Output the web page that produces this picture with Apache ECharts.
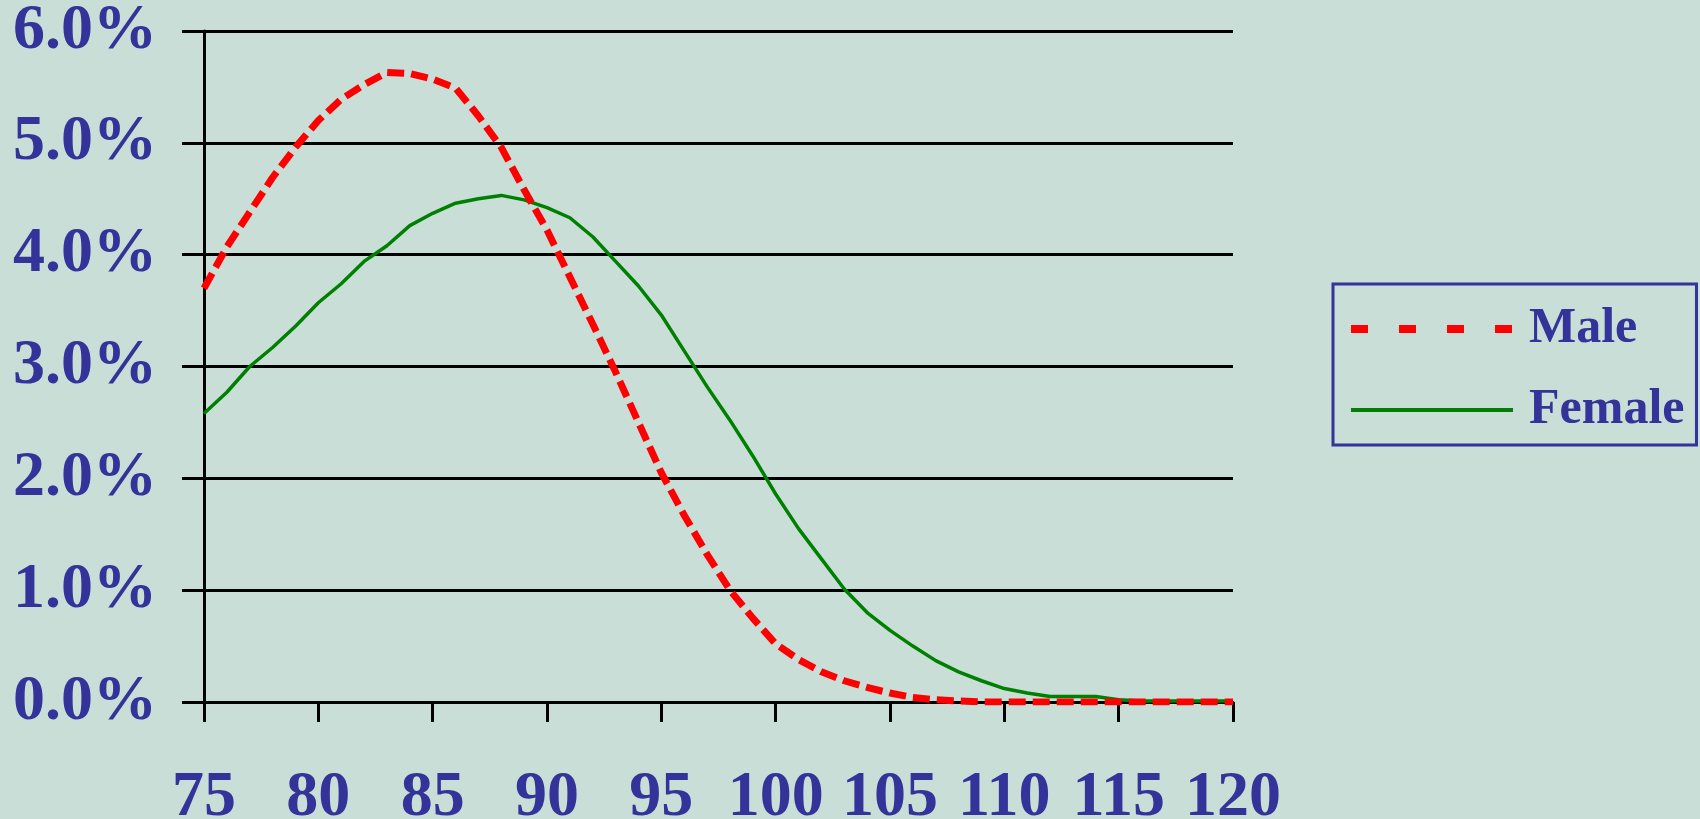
<!DOCTYPE html>
<html>
<head>
<meta charset="utf-8">
<title>Age at death distribution</title>
<script src="https://cdn.jsdelivr.net/npm/echarts@6/dist/echarts.min.js"></script>
<style>
  html, body { margin: 0; padding: 0; background: #C8DED7; }
  #chart { width: 1700px; height: 819px; }
</style>
</head>
<body>
<div id="chart"></div>
<script>
// Ages 75..120 and share of deaths at each age (percent)
const ages = [75,76,77,78,79,80,81,82,83,84,85,86,87,88,89,90,91,92,93,94,95,96,97,98,99,100,
  101,102,103,104,105,106,107,108,109,110,111,112,113,114,115,116,117,118,119,120];

const male = [3.70,4.07,4.38,4.69,4.96,5.20,5.39,5.52,5.63,5.62,5.57,5.49,5.24,4.96,4.58,4.22,3.80,3.38,2.95,2.50,
  2.05,1.67,1.32,1.00,0.75,0.52,0.38,0.27,0.19,0.13,0.08,0.04,0.02,0.01,0.00,0.00,0.00,0.00,0.00,0.00,
  0.00,0.00,0.00,0.00,0.00,0.00];

const female = [2.58,2.77,3.00,3.17,3.36,3.57,3.74,3.94,4.08,4.26,4.37,4.46,4.50,4.53,4.49,4.42,4.33,4.16,3.94,3.72,
  3.46,3.14,2.82,2.52,2.20,1.86,1.55,1.28,1.01,0.80,0.64,0.50,0.37,0.27,0.19,0.12,0.08,0.05,0.05,0.05,
  0.02,0.01,0.01,0.01,0.01,0.01];

const yTicks = [0, 1, 2, 3, 4, 5, 6];
const xTicks = [75, 80, 85, 90, 95, 100, 105, 110, 115, 120];

const seriesNames = ['Male', 'Female'];

const textColor = '#333399';
const fontFamily = "'Liberation Serif', 'Times New Roman', serif";

const chart = echarts.init(document.getElementById('chart'), null, { renderer: 'canvas' });

chart.setOption({
  backgroundColor: '#C8DED7',
  animation: false,
  grid: {
    left: 204, right: 467, top: 31, bottom: 117,
    containLabel: false,
    outerBoundsMode: 'none'
  },
  legend: {
    orient: 'vertical',
    left: 1333,
    top: 284,
    padding: [20, 12, 10, 14],
    itemGap: 31,
    itemWidth: 162,
    itemHeight: 10,
    borderColor: '#333399',
    borderWidth: 3,
    itemStyle: { opacity: 0, borderWidth: 0 },
    textStyle: {
      color: textColor,
      fontFamily: fontFamily,
      fontWeight: 'bold',
      fontSize: 50,
      padding: [0, 0, 0, 11]
    },
    data: [
      { name: seriesNames[0], lineStyle: { type: [17, 31], width: 8, color: '#FF0000' } },
      { name: seriesNames[1], lineStyle: { width: 4, color: '#008000' } }
    ]
  },
  xAxis: {
    type: 'value',
    min: xTicks[0],
    max: xTicks[xTicks.length - 1],
    interval: 5,
    axisLine: { show: true, onZero: false, lineStyle: { color: '#000', width: 3 } },
    axisTick: { show: true, length: 20, lineStyle: { color: '#000', width: 3 } },
    splitLine: { show: false },
    axisLabel: {
      margin: 64,
      color: textColor,
      fontFamily: fontFamily,
      fontWeight: 'bold',
      fontSize: 64
    }
  },
  yAxis: {
    type: 'value',
    min: yTicks[0],
    max: yTicks[yTicks.length - 1],
    interval: 1,
    axisLine: { show: true, lineStyle: { color: '#000', width: 3 } },
    axisTick: { show: true, length: 22, lineStyle: { color: '#000', width: 3 } },
    splitLine: { show: true, lineStyle: { color: '#000', width: 3 } },
    axisLabel: {
      margin: 47,
      color: textColor,
      fontFamily: fontFamily,
      fontWeight: 'bold',
      fontSize: 64,
      formatter: v => v.toFixed(1) + '%'
    }
  },
  series: [
    {
      name: seriesNames[0],
      type: 'line',
      symbol: 'none',
      data: ages.map((a, i) => [a, male[i]]),
      lineStyle: { color: '#FF0000', width: 7, type: [17, 7], cap: 'butt' },
      itemStyle: { color: '#FF0000' },
      z: 3
    },
    {
      name: seriesNames[1],
      type: 'line',
      symbol: 'none',
      data: ages.map((a, i) => [a, female[i]]),
      lineStyle: { color: '#008000', width: 3.5 },
      itemStyle: { color: '#008000' },
      z: 2
    }
  ]
});
</script>
</body>
</html>
